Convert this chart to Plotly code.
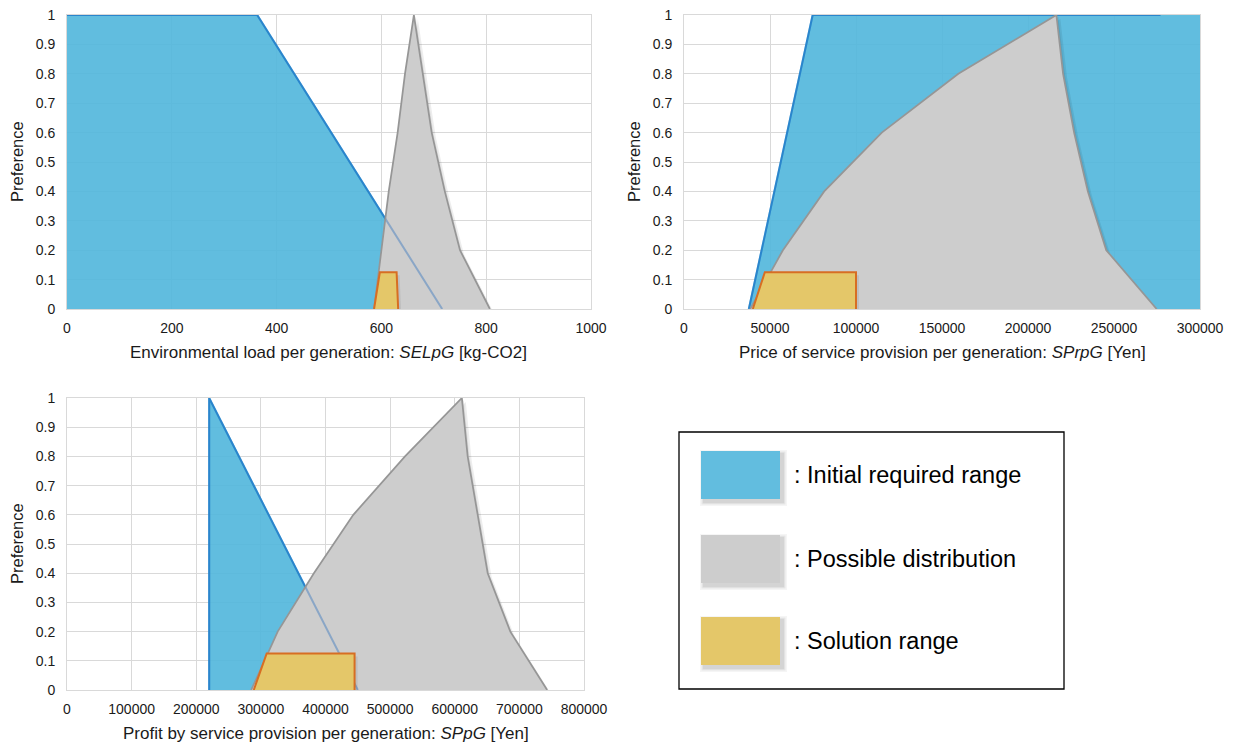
import plotly.graph_objects as go

W, H = 1236, 747

# ---- SELpG: environmental load per generation [kg-CO2] ----
sel_req_x = [0, 0, 363, 716]
sel_req_y = [0, 1, 1, 0]
sel_dist_x = [586, 600, 614, 631, 645, 662, 696, 721, 750, 807]
sel_dist_y = [0, 0.2, 0.4, 0.6, 0.8, 1, 0.6, 0.4, 0.2, 0]
sel_sol_x = [586, 597, 629, 632]
sel_sol_y = [0, 0.125, 0.125, 0]

# ---- SPrpG: price of service provision per generation [Yen] ----
sprpg_req_x = [37700, 74800, 300000, 300000]
sprpg_req_y = [0, 1, 1, 0]
sprpg_req_edge_x = [37700, 74800, 277000]
sprpg_req_edge_y = [0, 1, 1]
sprpg_dist_x = [38500, 57500, 81500, 115000, 159500, 216500,
                220400, 226800, 234800, 245500, 274800]
sprpg_dist_y = [0, 0.2, 0.4, 0.6, 0.8, 1, 0.8, 0.6, 0.4, 0.2, 0]
sprpg_sol_x = [40000, 47000, 100000, 100000]
sprpg_sol_y = [0, 0.125, 0.125, 0]

# ---- SPpG: profit by service provision per generation [Yen] ----
sppg_req_x = [220000, 220000, 450000]
sppg_req_y = [0, 1, 0]
sppg_dist_x = [285000, 326000, 382000, 443000, 523000, 611000,
               620000, 636000, 651000, 686000, 743000]
sppg_dist_y = [0, 0.2, 0.4, 0.6, 0.8, 1, 0.8, 0.6, 0.4, 0.2, 0]
sppg_sol_x = [289000, 309000, 445000, 445000]
sppg_sol_y = [0, 0.125, 0.125, 0]

legend_labels = [": Initial required range", ": Possible distribution", ": Solution range"]

BLUE_FILL = "rgba(80,182,220,0.9)"
BLUE_SWATCH = "rgb(98,189,223)"
BLUE_LINE = "rgb(45,150,215)"
GRAY_FILL = "rgb(205,205,205)"
GRAY_LINE = "rgb(150,150,150)"
YEL_FILL = "rgb(228,199,105)"
YEL_LINE = "rgb(215,110,35)"
SHADOW = "rgba(0,0,0,0.07)"
GRID = "#d9d9d9"
FONT = "Liberation Sans, Arial, sans-serif"
TXT = "#1a1a1a"


def px_x(p):
    return p / W


def px_y(p):
    return 1 - p / H


panels = [
    dict(ax="", xr=[0, 1000], dt=200, xd=(67, 591), yd=(15, 309),
         req=(sel_req_x, sel_req_y), edge=(sel_req_x[1:], sel_req_y[1:]),
         dist=(sel_dist_x, sel_dist_y), sol=(sel_sol_x, sel_sol_y),
         title="Environmental load per generation: <i>SELpG</i> [kg-CO2]"),
    dict(ax="2", xr=[0, 300000], dt=50000, xd=(684, 1200), yd=(15, 309),
         req=(sprpg_req_x, sprpg_req_y), edge=(sprpg_req_edge_x, sprpg_req_edge_y),
         dist=(sprpg_dist_x, sprpg_dist_y), sol=(sprpg_sol_x, sprpg_sol_y),
         title="Price of service provision per generation: <i>SPrpG</i> [Yen]"),
    dict(ax="3", xr=[0, 800000], dt=100000, xd=(67, 584), yd=(398, 690),
         req=(sppg_req_x, sppg_req_y), edge=(sppg_req_x, sppg_req_y),
         dist=(sppg_dist_x, sppg_dist_y), sol=(sppg_sol_x, sppg_sol_y),
         title="Profit by service provision per generation: <i>SPpG</i> [Yen]"),
]

fig = go.Figure()
layout = {}
annotations = []

for p in panels:
    xa, ya = "x" + p["ax"], "y" + p["ax"]
    common = dict(xaxis=xa, yaxis=ya, mode="lines", hoverinfo="skip", showlegend=False)
    # soft drop-shadow offset (a few pixels right / down) in data units
    ux = (p["xr"][1] - p["xr"][0]) / (p["xd"][1] - p["xd"][0])
    uy = 1.0 / (p["yd"][1] - p["yd"][0])

    def shadow(xs, ys, k=3):
        return go.Scatter(x=[v + k * ux for v in xs], y=[v - k * uy for v in ys],
                          fill="toself", fillcolor=SHADOW, line=dict(width=0), **common)

    # initial required range
    fig.add_trace(go.Scatter(x=p["req"][0], y=p["req"][1], fill="toself",
                             fillcolor=BLUE_FILL, line=dict(width=0), **common))
    fig.add_trace(go.Scatter(x=p["edge"][0], y=p["edge"][1],
                             line=dict(color=BLUE_LINE, width=2), **common))
    # possible distribution
    fig.add_trace(shadow(p["dist"][0], p["dist"][1], 4))
    fig.add_trace(shadow(p["dist"][0], p["dist"][1], 2))
    fig.add_trace(go.Scatter(x=p["dist"][0], y=p["dist"][1], fill="toself",
                             fillcolor=GRAY_FILL, line=dict(width=0), **common))
    # required-range edge seen through the distribution
    fig.add_trace(go.Scatter(x=p["edge"][0], y=p["edge"][1],
                             line=dict(color="rgb(40,110,190)", width=2), opacity=0.4, **common))
    fig.add_trace(go.Scatter(x=p["dist"][0], y=p["dist"][1],
                             line=dict(color=GRAY_LINE, width=1.75), **common))
    # solution range
    fig.add_trace(shadow(p["sol"][0], p["sol"][1], 3))
    fig.add_trace(go.Scatter(x=p["sol"][0], y=p["sol"][1], fill="toself",
                             fillcolor=YEL_FILL, line=dict(color=YEL_LINE, width=2), **common))

    xkey = "xaxis" + p["ax"]
    ykey = "yaxis" + p["ax"]
    layout[xkey] = dict(
        domain=[px_x(p["xd"][0]), px_x(p["xd"][1])], range=p["xr"], dtick=p["dt"],
        tick0=0, tickformat="d", anchor=ya, showgrid=True, gridcolor=GRID, gridwidth=1,
        zeroline=False, showline=True, linecolor=GRID, mirror=True, ticks="",
        automargin=False, ticklabelstandoff=6,
        tickfont=dict(family=FONT, size=14, color=TXT), fixedrange=True,
    )
    layout[ykey] = dict(
        domain=[px_y(p["yd"][1]), px_y(p["yd"][0])], range=[0, 1], dtick=0.1, tick0=0,
        anchor=xa, showgrid=True, gridcolor=GRID, gridwidth=1, zeroline=False,
        showline=True, linecolor=GRID, mirror=True, ticks="", ticklabelstandoff=8,
        automargin=False, tickfont=dict(family=FONT, size=14, color=TXT), fixedrange=True,
    )
    cx = (p["xd"][0] + p["xd"][1]) / 2
    annotations.append(dict(
        text=p["title"], x=px_x(cx), y=px_y(p["yd"][1] + 43), xref="paper", yref="paper",
        showarrow=False, xanchor="center", yanchor="middle",
        font=dict(family=FONT, size=17, color=TXT)))
    annotations.append(dict(
        text="Preference", x=px_x(p["xd"][0] - 50), y=px_y((p["yd"][0] + p["yd"][1]) / 2),
        xref="paper", yref="paper", showarrow=False, textangle=-90,
        xanchor="center", yanchor="middle", font=dict(family=FONT, size=16.5, color=TXT)))

# legend box
shapes = [dict(type="rect", xref="paper", yref="paper",
               x0=px_x(679), x1=px_x(1064), y0=px_y(689), y1=px_y(432),
               line=dict(color="#000000", width=1.3), fillcolor="rgba(0,0,0,0)")]
swatch_fill = [BLUE_SWATCH, GRAY_FILL, YEL_FILL]
swatch_top = [451, 535, 617]
for lbl, col, top in zip(legend_labels, swatch_fill, swatch_top):
    for k, a in ((4, 0.04), (2.5, 0.06), (1.2, 0.08)):
        shapes.append(dict(type="rect", xref="paper", yref="paper",
                           x0=px_x(701 + 3 - k), x1=px_x(780 + 3 + k),
                           y0=px_y(top + 48 + 3 + k), y1=px_y(top + 3 - k),
                           line=dict(width=0), fillcolor=f"rgba(0,0,0,{a})", layer="above"))
    shapes.append(dict(type="rect", xref="paper", yref="paper",
                       x0=px_x(701), x1=px_x(780), y0=px_y(top + 48), y1=px_y(top),
                       line=dict(width=0), fillcolor=col, layer="above"))
    annotations.append(dict(
        text=lbl, x=px_x(792), y=px_y(top + 24), xref="paper", yref="paper",
        showarrow=False, xanchor="left", yanchor="middle",
        font=dict(family=FONT, size=23.5, color="#000000")))

fig.update_layout(
    width=W, height=H, margin=dict(l=0, r=0, t=0, b=0, autoexpand=False),
    paper_bgcolor="white", plot_bgcolor="white",
    shapes=shapes, annotations=annotations, **layout,
)

fig.write_html("out.html")
